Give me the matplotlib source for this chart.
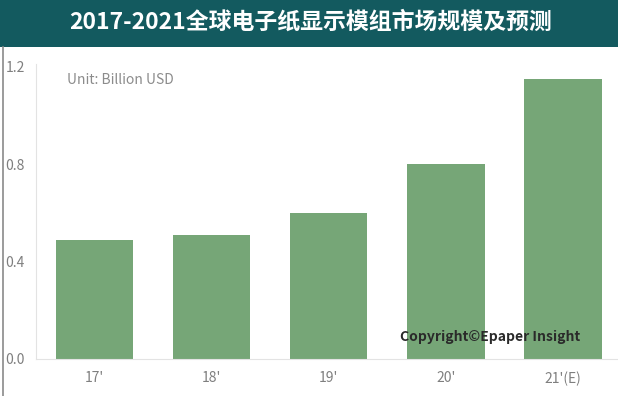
import matplotlib.pyplot as plt

plt.rcParams['font.family'] = ['Noto Sans CJK SC', 'DejaVu Sans']

years = ["17'", "18'", "19'", "20'", "21'(E)"]
market = [0.49, 0.51, 0.60, 0.80, 1.15]
yticks = [0.0, 0.4, 0.8, 1.2]

fig = plt.figure(figsize=(6.18, 3.96), dpi=100)

# title banner
fig.patches.append(plt.Rectangle((0, 1 - 47 / 396), 1, 47 / 396, transform=fig.transFigure,
                                 facecolor='#135a5f', edgecolor='none', zorder=0))
fig.text(0.503, 1 - 22 / 396, '2017-2021全球电子纸显示模组市场规模及预测', ha='center', va='center',
         color='white', fontsize=16.5, fontweight='bold')
# left border line
fig.add_artist(plt.Line2D([2.5 / 618, 2.5 / 618], [0, 1 - 47 / 396], transform=fig.transFigure,
                          color='#8a8a8a', lw=1.2))

ax = fig.add_axes([36 / 618, 37 / 396, 582 / 618, 295 / 396])
ax.bar(range(len(years)), market, width=0.66, color='#76a677', zorder=2)
ax.set_xlim(-0.5, 4.47)
ax.set_ylim(0, 1.212)
ax.set_yticks(yticks)
ax.set_yticklabels(['%.1f' % t for t in yticks])
ax.set_xticks(range(len(years)))
ax.set_xticklabels(years)
ax.tick_params(length=0, colors='#7f7f7f', labelsize=10)
ax.tick_params(axis='y', pad=8)
ax.tick_params(axis='x', pad=9)
for s in ['top', 'right']:
    ax.spines[s].set_visible(False)
ax.spines['left'].set_color('#e3e3e3')
ax.spines['bottom'].set_color('#e3e3e3')

ax.text(0.053, 0.946, 'Unit: Billion USD', transform=ax.transAxes, color='#8c8c8c', fontsize=10,
        va='center')
fig.text(400 / 618, 1 - 337 / 396, 'Copyright©Epaper Insight', color='#2a2a2a', fontsize=10,
         fontweight='bold', va='center', ha='left')

fig.savefig('out.png', dpi=100, facecolor='white')
